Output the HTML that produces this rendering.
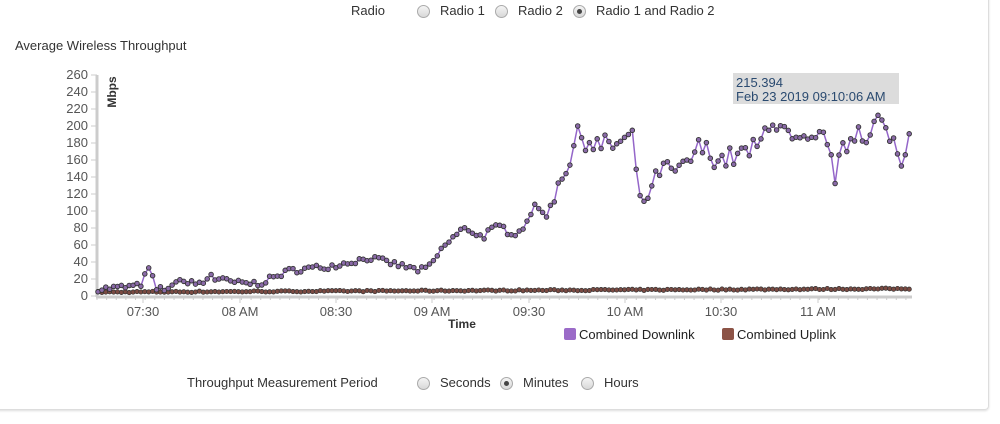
<!DOCTYPE html>
<html><head><meta charset="utf-8"><style>
body{margin:0;width:1000px;height:424px;background:#fff;font-family:"Liberation Sans",sans-serif;position:relative;overflow:hidden}
.card{position:absolute;left:-5px;top:-5px;width:992px;height:413px;border:1px solid #ddd;border-radius:4px;box-shadow:0 1px 2px #ddd}
.t{position:absolute;font-size:13px;color:#333;white-space:nowrap}
.r{position:absolute;width:13px;height:13px;border:1px solid #aaa;border-radius:50%;background:linear-gradient(#f4f4f4,#d8d8d8);box-sizing:border-box}
.r.on::after{content:"";position:absolute;left:3px;top:3px;width:5px;height:5px;border-radius:50%;background:#444}
</style></head><body>
<div class="card"></div>
<div class="t" style="left:351px;top:3px">Radio</div>
<div class="r" style="left:417px;top:5px"></div><div class="t" style="left:440px;top:3px">Radio 1</div>
<div class="r" style="left:495px;top:5px"></div><div class="t" style="left:518px;top:3px">Radio 2</div>
<div class="r on" style="left:573px;top:5px"></div><div class="t" style="left:596px;top:3px">Radio 1 and Radio 2</div>
<div class="t" style="left:15px;top:38px">Average Wireless Throughput</div>
<div class="t" style="left:187px;top:375px">Throughput Measurement Period</div>
<div class="r" style="left:417px;top:377px"></div><div class="t" style="left:440px;top:375px">Seconds</div>
<div class="r on" style="left:500px;top:377px"></div><div class="t" style="left:523px;top:375px">Minutes</div>
<div class="r" style="left:581px;top:377px"></div><div class="t" style="left:604px;top:375px">Hours</div>
<svg id="s" width="1000" height="424" style="position:absolute;left:0;top:0" font-family="Liberation Sans, sans-serif"></svg>
<script>
var s=document.getElementById('s'),h='';
function Y(v){return 296-v*0.85}
h+='<line x1="97" y1="75" x2="97" y2="297" stroke="#ccc" stroke-width="3"/>';
h+='<line x1="96" y1="297" x2="912" y2="297" stroke="#ccc" stroke-width="3"/>';
for(var v=0;v<=260;v+=20){var y=Y(v);h+='<line x1="91" y1="'+y+'" x2="97" y2="'+y+'" stroke="#ccc"/><text x="88" y="'+(y+4)+'" font-size="13" fill="#555" text-anchor="end">'+v+'</text>';}
var tk=[[143,'07:30'],[240,'08 AM'],[336,'08:30'],[432,'09 AM'],[529,'09:30'],[625,'10 AM'],[721,'10:30'],[818,'11 AM']];
tk.forEach(function(t){h+='<line x1="'+t[0]+'" y1="297" x2="'+t[0]+'" y2="303" stroke="#ccc"/><text x="'+t[0]+'" y="316" font-size="13" fill="#555" text-anchor="middle">'+t[1]+'</text>'});
for(var x=97;x<912;x+=9.63)h+='<line x1="'+x+'" y1="297" x2="'+x+'" y2="300" stroke="#ccc"/>';
h+='<text transform="translate(116,92) rotate(-90)" font-size="12" font-weight="bold" fill="#333" text-anchor="middle">Mbps</text>';
h+='<text x="462" y="328" font-size="12" font-weight="bold" fill="#333" text-anchor="middle">Time</text>';
var cp=[[97,8],[140,12],[150,35],[155,8],[175,10],[178,25],[185,15],[205,15],[210,28],[215,20],[240,15],[260,15],[290,30],[330,35],[370,45],[420,30],[430,35],[445,60],[460,75],[470,80],[480,70],[500,80],[520,75],[530,100],[550,100],[560,140],[570,160],[575,180],[580,190],[600,175],[620,180],[633,185],[640,110],[650,120],[660,150],[680,145],[700,175],[720,160],[740,165],[760,175],[770,215],[790,180],[810,175],[828,190],[833,135],[845,175],[858,200],[870,190],[880,210],[890,175],[898,180],[903,135],[908,200],[912,170]];
var seed=7;function rnd(){seed=(seed*16807)%2147483647;return seed/2147483647}
function interp(x){for(var i=1;i<cp.length;i++)if(x<=cp[i][0]){var a=cp[i-1],b=cp[i];return a[1]+(b[1]-a[1])*(x-a[0])/(b[0]-a[0])}return cp[cp.length-1][1]}
var dn=[],up=[];
for(var x=98;x<=910;x+=3.9){var v=interp(x);var n=(rnd()-0.5)*Math.max(7,v*0.16);dn.push([x,Math.max(5,v+n)]);up.push([x,4+x/400*2+(rnd()-0.5)*1.5]);}
function path(d,c){return '<polyline fill="none" stroke="'+c+'" stroke-width="1.5" points="'+d.map(function(p){return p[0].toFixed(1)+','+Y(p[1]).toFixed(1)}).join(' ')+'"/>'}
h+=path(up,'#8c4f43');h+=path(dn,'#9466c9');
up.forEach(function(p){h+='<circle cx="'+p[0].toFixed(1)+'" cy="'+Y(p[1]).toFixed(1)+'" r="2.2" fill="#7a4a42" stroke="#333" stroke-width="0.7"/>'});
dn.forEach(function(p){h+='<circle cx="'+p[0].toFixed(1)+'" cy="'+Y(p[1]).toFixed(1)+'" r="2.3" fill="#8a6aa8" stroke="#333" stroke-width="0.9"/>'});
h+='<rect x="733" y="73" width="166" height="31" fill="#dcdcdc"/><text x="736" y="87" font-size="13" fill="#2a4a70">215.394</text><text x="736" y="101" font-size="13" fill="#2a4a70">Feb 23 2019 09:10:06 AM</text>';
h+='<rect x="564" y="328" width="12" height="12" rx="2" fill="#9b6bc8"/><text x="579" y="339" font-size="13" fill="#222">Combined Downlink</text>';
h+='<rect x="722" y="328" width="12" height="12" rx="2" fill="#8c5346"/><text x="737" y="339" font-size="13" fill="#222">Combined Uplink</text>';
s.innerHTML=h;
</script>
</body></html>
